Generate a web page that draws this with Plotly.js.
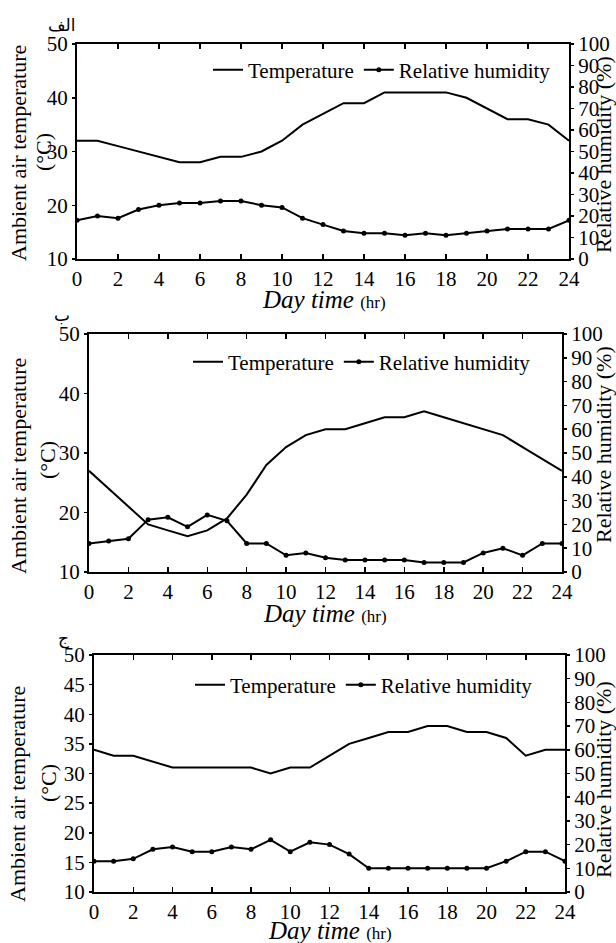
<!DOCTYPE html>
<html>
<head>
<meta charset="utf-8">
<script src="https://cdn.plot.ly/plotly-3.0.1.min.js"></script>
<style>html,body{margin:0;padding:0;background:#fff;}#chart{width:616px;height:943px;}</style>
</head>
<body>
<div id="chart"></div>
<script>
// ---- data ----
const hours = [0,1,2,3,4,5,6,7,8,9,10,11,12,13,14,15,16,17,18,19,20,21,22,23,24];
const xTicks = [0,2,4,6,8,10,12,14,16,18,20,22,24];

const tempA = [32,32,31,30,29,28,28,29,29,30,32,35,37,39,39,41,41,41,41,40,38,36,36,35,32];
const rhA   = [18,20,19,23,25,26,26,27,27,25,24,19,16,13,12,12,11,12,11,12,13,14,14,14,18];

const tempB = [27,24,21,18,17,16,17,19,23,28,31,33,34,34,35,36,36,37,36,35,34,33,31,29,27];
const rhB   = [12,13,14,22,23,19,24,21.5,12,12,7,8,6,5,5,5,5,4,4,4,8,10,7,12,12];

const tempC = [34,33,33,32,31,31,31,31,31,30,31,31,33,35,36,37,37,38,38,37,37,36,33,34,34];
const rhC   = [13,13,14,18,19,17,17,19,18,22,17,21,20,16,10,10,10,10,10,10,10,13,17,17,13];

const panelLabels = ['الف','ب','ج'];
const tempName = 'Temperature';
const rhName = 'Relative humidity';
const leftTitle = 'Ambient air temperature';
const leftUnit = '(°C)';
const rightTitle = 'Relative humidity (%)';

// ---- layout helpers ----
const W = 616, H = 943;
const px = v => v / W;
const py = v => 1 - v / H;
const SERIF = '"Liberation Serif", "Times New Roman", "DejaVu Serif", serif';

const panels = [
  {T: tempA, R: rhA, box: [77, 569, 44, 259], dT: 10, label: [62, 25],
   legend: [208, 70], lt: [18, 153], lu: [43, 152], rt: [603, 155], xt: [324, 299]},
  {T: tempB, R: rhB, box: [89, 562, 334, 572], dT: 10, label: [62, 315],
   legend: [188, 362], lt: [18, 466], lu: [47, 460], rt: [603, 445], xt: [325, 613]},
  {T: tempC, R: rhC, box: [94, 565, 655, 892], dT: 5, label: [63, 638],
   legend: [190, 685], lt: [17, 794], lu: [48, 783], rt: [603, 780], xt: [330, 930]}
];

const data = [];
const layout = {
  width: W, height: H,
  margin: {l: 0, r: 0, t: 0, b: 0},
  paper_bgcolor: '#fff', plot_bgcolor: '#fff',
  font: {family: SERIF, color: '#000', size: 20},
  annotations: []
};

panels.forEach((p, i) => {
  const n = i + 1;
  const xa = n === 1 ? 'x' : 'x' + n;
  const yl = 2 * i + 1, yr = 2 * i + 2;
  const ylName = yl === 1 ? 'y' : 'y' + yl;
  const yrName = 'y' + yr;
  const lg = n === 1 ? 'legend' : 'legend' + n;

  data.push({
    x: hours, y: p.T, xaxis: xa, yaxis: ylName, name: tempName, legend: lg,
    type: 'scatter', mode: 'lines', line: {color: '#000', width: 2}
  });
  data.push({
    x: hours, y: p.R, xaxis: xa, yaxis: yrName, name: rhName, legend: lg,
    type: 'scatter', mode: 'lines+markers', line: {color: '#000', width: 2},
    marker: {color: '#000', size: 5}
  });

  const [x0, x1, yTop, yBot] = p.box;
  layout[n === 1 ? 'xaxis' : 'xaxis' + n] = {
    domain: [px(x0), px(x1)], anchor: ylName, range: [0, 24],
    tickvals: xTicks, ticks: 'inside', ticklen: 5, tickwidth: 1.5, tickcolor: '#000',
    showline: true, linewidth: 2, linecolor: '#000', mirror: 'ticks',
    showgrid: false, zeroline: false, fixedrange: true,
    tickfont: {family: SERIF, size: 21, color: '#000'}
  };
  layout[yl === 1 ? 'yaxis' : 'yaxis' + yl] = {
    domain: [py(yBot), py(yTop)], anchor: xa, range: [10, 50], dtick: p.dT,
    ticks: 'outside', ticklen: 3, tickwidth: 1.5, tickcolor: '#000',
    showline: true, linewidth: 2, linecolor: '#000',
    showgrid: false, zeroline: false, fixedrange: true,
    tickfont: {family: SERIF, size: 21, color: '#000'}
  };
  layout['yaxis' + yr] = {
    domain: [py(yBot), py(yTop)], anchor: xa, overlaying: ylName, side: 'right',
    range: [0, 100], dtick: 10,
    ticks: 'outside', ticklen: 3, tickwidth: 1.5, tickcolor: '#000',
    showline: true, linewidth: 2, linecolor: '#000',
    showgrid: false, zeroline: false, fixedrange: true,
    tickfont: {family: SERIF, size: 21, color: '#000'}
  };
  layout[lg] = {
    orientation: 'h', x: px(p.legend[0]), y: py(p.legend[1]),
    xanchor: 'left', yanchor: 'middle', bgcolor: 'rgba(0,0,0,0)',
    font: {family: SERIF, size: 21, color: '#000'}, itemwidth: 30
  };

  const ann = (xy, text, extra) => Object.assign({
    xref: 'paper', yref: 'paper', x: px(xy[0]), y: py(xy[1]),
    xanchor: 'center', yanchor: 'middle', showarrow: false, text: text
  }, extra);

  layout.annotations.push(ann(p.label, panelLabels[i],
    {font: {family: '"DejaVu Sans", "Noto Sans"', size: 17, color: '#000'}}));
  layout.annotations.push(ann(p.lt, leftTitle,
    {textangle: -90, font: {family: SERIF, size: 22, color: '#000'}}));
  layout.annotations.push(ann(p.lu, leftUnit,
    {textangle: -90, font: {family: SERIF, size: 22, color: '#000'}}));
  layout.annotations.push(ann(p.rt, rightTitle,
    {textangle: -90, font: {family: SERIF, size: 22, color: '#000'}}));
  layout.annotations.push(ann(p.xt,
    '<i>Day time</i> <span style="font-size:17px">(hr)</span>',
    {font: {family: SERIF, size: 25, color: '#000'}}));
});

Plotly.newPlot('chart', data, layout, {displayModeBar: false, staticPlot: true});
</script>
</body>
</html>
